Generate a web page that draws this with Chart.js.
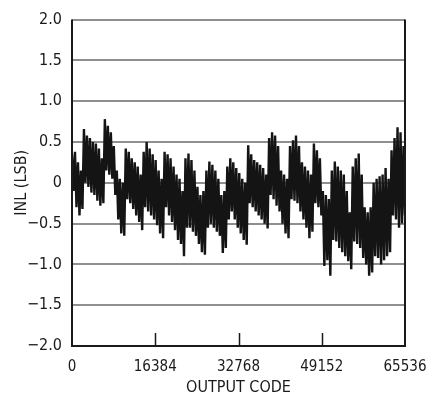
<!DOCTYPE html>
<html lang="en">
	<head>
		<meta charset="UTF-8" />
		<title>INL vs Output Code</title>
		<script src="https://cdn.jsdelivr.net/npm/chart.js"></script>
		<style>
			html, body { margin: 0; padding: 0; background: #fff; }
			#wrap { position: relative; width: 435px; height: 404px; }
		</style>
	</head>

	<body>
		<div id="wrap"><canvas id="myChart" width="435" height="404"></canvas></div>
	</body>
	<script>
		// axis setup
		const codeMin = 0;
		const codeMax = 65536;
		const xTicks = [0, 16384, 32768, 49152, 65536];
		const yTicks = [-2, -1.5, -1, -0.5, 0, 0.5, 1, 1.5, 2];

		// INL trace (LSB): pairs of high / low excursions, left to right,
		// read column by column from the reference (about every 3 px)
		const inlPairs = [
			0.35, -0.10, 0.38, -0.30, 0.25, -0.40, 0.15, -0.32,
			0.66, 0.00, 0.58, -0.05, 0.55, -0.12, 0.50, -0.15, 0.48, -0.22, 0.42, -0.28, 0.30, -0.25,
			0.78, 0.15, 0.70, 0.10, 0.62, 0.05, 0.45, -0.15,
			0.15, -0.45, 0.05, -0.62, 0.00, -0.65,
			0.42, -0.20, 0.38, -0.25, 0.30, -0.32, 0.25, -0.40, 0.20, -0.48, 0.10, -0.58,
			0.38, -0.30, 0.50, -0.35, 0.42, -0.40, 0.35, -0.45, 0.28, -0.52, 0.15, -0.62, 0.05, -0.68,
			0.38, -0.30, 0.35, -0.40, 0.30, -0.48, 0.20, -0.58, 0.10, -0.70, 0.05, -0.75,
			-0.10, -0.90,
			0.30, -0.55, 0.36, -0.55, 0.28, -0.60, 0.15, -0.65,
			-0.05, -0.75, -0.15, -0.85, -0.10, -0.88,
			0.15, -0.55, 0.26, -0.50, 0.22, -0.55, 0.15, -0.60, 0.05, -0.65,
			-0.15, -0.86, -0.10, -0.80,
			0.20, -0.45, 0.30, -0.35, 0.25, -0.45, 0.18, -0.55, 0.12, -0.62, 0.05, -0.70, 0.00, -0.76,
			0.46, -0.25, 0.35, -0.30, 0.28, -0.35, 0.25, -0.40, 0.22, -0.45, 0.18, -0.50, 0.10, -0.56,
			0.55, -0.15, 0.62, -0.20, 0.58, -0.28, 0.45, -0.35,
			0.15, -0.50, 0.10, -0.62, 0.05, -0.68,
			0.45, -0.20, 0.52, -0.22, 0.58, -0.25, 0.45, -0.35,
			0.25, -0.45, 0.20, -0.55, 0.15, -0.68, 0.10, -0.60,
			0.48, -0.25, 0.40, -0.30, 0.30, -0.40,
			-0.10, -1.02, -0.15, -0.95, -0.20, -1.14,
			0.15, -0.70, 0.26, -0.72, 0.20, -0.80, 0.15, -0.85, 0.10, -0.90, -0.10, -0.96, -0.36, -1.06,
			0.20, -0.72, 0.30, -0.75, 0.36, -0.80, 0.10, -0.92,
			-0.30, -1.00, -0.36, -1.14, -0.30, -1.10,
			0.00, -0.90, 0.05, -0.92, 0.08, -1.00, 0.10, -0.95, 0.18, -0.90, 0.05, -0.85,
			0.40, -0.40, 0.55, -0.45, 0.68, -0.55, 0.62, -0.50, 0.45, -0.40,
		];

		const fontStack = "'DejaVu Sans Condensed', 'Liberation Sans', sans-serif";
		const fontSize = 15;
		const inkColor = "#1a1a1a";
		const gridColor = "#8f8f8f";

		const points = inlPairs.map((v, i) => ({
			x: codeMin + (i * (codeMax - codeMin)) / (inlPairs.length - 1),
			y: v,
		}));

		const fmtY = (v) => (v === 0 ? "0" : v.toFixed(1).replace("-", "\u2212"));

		// frame (left, right, bottom) plus the short inward ticks on the code axis
		const framePlugin = {
			id: "frame",
			afterDraw(chart) {
				const { ctx, chartArea: a, scales } = chart;
				ctx.save();
				ctx.strokeStyle = inkColor;
				ctx.lineWidth = 2;
				ctx.beginPath();
				ctx.moveTo(a.left, a.top);
				ctx.lineTo(a.left, a.bottom);
				ctx.lineTo(a.right, a.bottom);
				ctx.lineTo(a.right, a.top);
				ctx.stroke();
				ctx.lineWidth = 1.5;
				ctx.beginPath();
				xTicks.slice(1, -1).forEach((t) => {
					const px = Math.round(scales.x.getPixelForValue(t)) + 0.5;
					ctx.moveTo(px, a.bottom);
					ctx.lineTo(px, a.bottom - 13);
				});
				ctx.stroke();
				ctx.restore();
			},
		};

		const ctx = document.getElementById("myChart");
		const myChart = new Chart(ctx, {
			type: "line",
			data: {
				datasets: [
					{
						data: points,
						borderColor: "#141414",
						borderWidth: 2.4,
						borderJoinStyle: "miter",
						pointRadius: 0,
						tension: 0,
					},
				],
			},
			options: {
				responsive: false,
				animation: false,
				events: [],
				layout: { padding: { top: 14, right: 30, left: 0, bottom: 0 } },
				plugins: { legend: { display: false }, tooltip: { enabled: false } },
				scales: {
					x: {
						type: "linear",
						min: codeMin,
						max: codeMax,
						afterBuildTicks: (s) => { s.ticks = xTicks.map((v) => ({ value: v })); },
						afterFit: (s) => { s.height = 58; s.paddingRight = 0; s.paddingLeft = 0; },
						grid: { display: false, drawTicks: false },
						border: { display: false },
						ticks: {
							padding: 12,
							color: inkColor,
							font: { family: fontStack, size: fontSize },
							maxRotation: 0,
							callback: (v) => String(v),
						},
						title: {
							display: true,
							text: "OUTPUT CODE",
							color: inkColor,
							font: { family: fontStack, size: fontSize + 1 },
							padding: { top: 0, bottom: 7 },
						},
					},
					y: {
						min: -2,
						max: 2,
						afterBuildTicks: (s) => { s.ticks = yTicks.map((v) => ({ value: v })); },
						afterFit: (s) => { s.width = 72; },
						grid: { color: gridColor, lineWidth: 2, drawTicks: false },
						border: { display: false },
						ticks: {
							padding: 10,
							color: inkColor,
							font: { family: fontStack, size: fontSize + 1 },
							callback: fmtY,
						},
						title: {
							display: true,
							text: "INL (LSB)",
							color: inkColor,
							font: { family: fontStack, size: fontSize + 1 },
							padding: { top: 12, bottom: 0 },
						},
					},
				},
			},
			plugins: [framePlugin],
		});
	</script>
</html>
